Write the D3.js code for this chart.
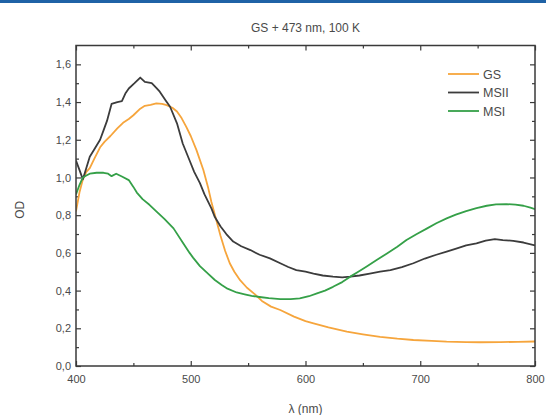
<!DOCTYPE html>
<html>
<head>
<meta charset="utf-8">
<script src="https://cdn.jsdelivr.net/npm/d3@7"></script>
<style>
  html, body { margin: 0; padding: 0; background: #fff; }
  svg { display: block; }
  text { font-family: "Liberation Sans", Arial, sans-serif; fill: #4a4a4a; }
</style>
</head>
<body>
<svg id="chart" width="546" height="415"></svg>
<script>
// Absorption spectra (OD vs wavelength) of the ground state and metastable states
const gsWl = [400,403,406,409,412,416,421,425,430,436,441,446,450,456,460,465,470,475,479,484,488,492,496,500,505,511,515,518,522,526,530,534,538,543,549,556,562,570,578,590,600,607,620,636,650,665,680,694,710,723,740,752,770,785,800];
const gsOd = [0.82,0.92,0.99,1.03,1.05,1.10,1.16,1.19,1.22,1.26,1.29,1.31,1.33,1.365,1.38,1.385,1.393,1.39,1.384,1.37,1.35,1.315,1.27,1.22,1.145,1.04,0.95,0.87,0.78,0.69,0.61,0.545,0.50,0.455,0.415,0.38,0.345,0.315,0.297,0.262,0.238,0.226,0.205,0.182,0.168,0.155,0.145,0.138,0.133,0.129,0.127,0.126,0.127,0.128,0.13];

const msiiWl = [400,403,406,409,412,416,421,424,427,431,436,440,443,446,451,456,460,466,470,473,478,482,488,493,499,503,508,512,518,521,526,531,537,544,552,560,569,578,585,592,600,607,615,624,632,639,647,656,665,674,684,694,704,714,723,732,740,749,757,765,772,781,790,800];
const msiiOd = [1.09,1.04,0.99,1.05,1.11,1.15,1.20,1.25,1.30,1.39,1.40,1.405,1.445,1.472,1.50,1.53,1.507,1.50,1.475,1.455,1.41,1.375,1.287,1.18,1.09,1.03,0.97,0.91,0.836,0.79,0.74,0.70,0.66,0.635,0.615,0.59,0.571,0.545,0.525,0.509,0.50,0.49,0.48,0.474,0.47,0.474,0.48,0.49,0.50,0.509,0.525,0.545,0.57,0.59,0.607,0.624,0.64,0.65,0.665,0.673,0.668,0.664,0.655,0.64];

const msiWl = [400,403,406,409,412,418,424,428,431,435,440,446,450,453,458,464,470,477,485,493,499,502,508,515,521,527,532,540,547,553,560,568,578,587,595,603,610,617,624,632,639,646,653,662,671,680,688,697,706,714,723,731,740,749,758,766,775,783,790,796,800];
const msiOd = [0.91,0.96,1.0,1.01,1.02,1.025,1.025,1.02,1.007,1.02,1.005,0.986,0.95,0.92,0.885,0.855,0.82,0.78,0.73,0.655,0.60,0.575,0.53,0.49,0.456,0.43,0.41,0.39,0.38,0.372,0.366,0.36,0.355,0.355,0.359,0.37,0.385,0.40,0.42,0.445,0.474,0.50,0.527,0.562,0.597,0.633,0.668,0.70,0.73,0.757,0.783,0.803,0.822,0.838,0.85,0.857,0.859,0.856,0.85,0.84,0.832];

const seriesNames = ["GS", "MSII", "MSI"];
const seriesColors = ["#f6a53c", "#3c3c3c", "#35a048"];

const xMajorTicks = [400, 500, 600, 700, 800];
const xMinorTicks = [450, 550, 650, 750];
const yMajorTicks = [0, 0.2, 0.4, 0.6, 0.8, 1.0, 1.2, 1.4, 1.6];
const yMinorTicks = [0.1, 0.3, 0.5, 0.7, 0.9, 1.1, 1.3, 1.5];

const titleText = "GS + 473 nm, 100 K";
const xLabel = "λ (nm)";
const yLabel = "OD";

const series = [
  { name: seriesNames[0], color: seriesColors[0], pts: gsWl.map((w, i) => [w, gsOd[i]]) },
  { name: seriesNames[1], color: seriesColors[1], pts: msiiWl.map((w, i) => [w, msiiOd[i]]) },
  { name: seriesNames[2], color: seriesColors[2], pts: msiWl.map((w, i) => [w, msiOd[i]]) }
];

const svg = d3.select("#chart");
const W = 546, H = 415;
const m = { left: 76, right: 11, top: 45.5, bottom: 49 };

// thin blue band across the top edge
svg.append("rect").attr("x", 0).attr("y", 0).attr("width", W).attr("height", 3).attr("fill", "#1f62a6");

const x = d3.scaleLinear().domain([400, 800]).range([m.left, W - m.right]);
const y = d3.scaleLinear().domain([0, 1.7]).range([H - m.bottom, m.top]);

const locale = d3.formatLocale({ decimal: ",", thousands: ".", grouping: [3], currency: ["", ""] });
const fmt = locale.format(".1f");

const axisColor = "#3a3a3a";
function styleAxis(g) {
  g.select(".domain").remove();
  g.selectAll(".tick line").attr("stroke", axisColor).attr("stroke-width", 1.2);
  g.selectAll(".tick text").style("font-size", "11px").attr("fill", "#4a4a4a");
}

const pb = H - m.bottom, pt = m.top, pl = m.left, pr = W - m.right;

// bottom axis with labels
svg.append("g").attr("transform", `translate(0,${pb})`)
  .call(d3.axisBottom(x).tickValues(xMajorTicks).tickSize(-5).tickPadding(9).tickFormat(d3.format("d")))
  .call(styleAxis);
svg.append("g").attr("transform", `translate(0,${pb})`)
  .call(d3.axisBottom(x).tickValues(xMinorTicks).tickSize(-3).tickFormat(""))
  .call(styleAxis);
// top mirror ticks
svg.append("g").attr("transform", `translate(0,${pt})`)
  .call(d3.axisTop(x).tickValues(xMajorTicks).tickSize(-5).tickFormat(""))
  .call(styleAxis);
svg.append("g").attr("transform", `translate(0,${pt})`)
  .call(d3.axisTop(x).tickValues(xMinorTicks).tickSize(-3).tickFormat(""))
  .call(styleAxis);
// left axis with labels
svg.append("g").attr("transform", `translate(${pl},0)`)
  .call(d3.axisLeft(y).tickValues(yMajorTicks).tickSize(-5).tickPadding(5).tickFormat(fmt))
  .call(styleAxis);
svg.append("g").attr("transform", `translate(${pl},0)`)
  .call(d3.axisLeft(y).tickValues(yMinorTicks).tickSize(-3).tickFormat(""))
  .call(styleAxis);
// right mirror ticks
svg.append("g").attr("transform", `translate(${pr},0)`)
  .call(d3.axisRight(y).tickValues(yMajorTicks).tickSize(-5).tickFormat(""))
  .call(styleAxis);
svg.append("g").attr("transform", `translate(${pr},0)`)
  .call(d3.axisRight(y).tickValues(yMinorTicks).tickSize(-3).tickFormat(""))
  .call(styleAxis);

// curves
svg.append("defs").append("clipPath").attr("id", "plotClip")
  .append("rect").attr("x", pl).attr("y", pt).attr("width", pr - pl).attr("height", pb - pt);

const line = d3.line().x(d => x(d[0])).y(d => y(d[1]));
svg.append("g").attr("clip-path", "url(#plotClip)")
  .selectAll("path").data(series).join("path")
  .attr("d", d => line(d.pts))
  .attr("fill", "none")
  .attr("stroke", d => d.color)
  .attr("stroke-width", 1.8)
  .attr("stroke-linejoin", "round");

// frame
svg.append("rect").attr("x", pl).attr("y", pt).attr("width", pr - pl).attr("height", pb - pt)
  .attr("fill", "none").attr("stroke", axisColor).attr("stroke-width", 1.5);

// legend
const lg = svg.append("g");
series.forEach((s, i) => {
  const ly = 74 + i * 18.5;
  lg.append("line").attr("x1", 448).attr("x2", 479).attr("y1", ly).attr("y2", ly)
    .attr("stroke", s.color).attr("stroke-width", 1.8);
  lg.append("text").attr("x", 483).attr("y", ly + 4.5).style("font-size", "12.5px").text(s.name);
});

// title and axis labels
svg.append("text").attr("x", (pl + pr) / 2).attr("y", 32).attr("text-anchor", "middle")
  .style("font-size", "12px").text(titleText);
svg.append("text").attr("x", (pl + pr) / 2).attr("y", 413).attr("text-anchor", "middle")
  .style("font-size", "12px").text(xLabel);
svg.append("text").attr("transform", `translate(24,${(pt + pb) / 2 + 4}) rotate(-90)`)
  .attr("text-anchor", "middle").style("font-size", "12px").text(yLabel);
</script>
</body>
</html>
